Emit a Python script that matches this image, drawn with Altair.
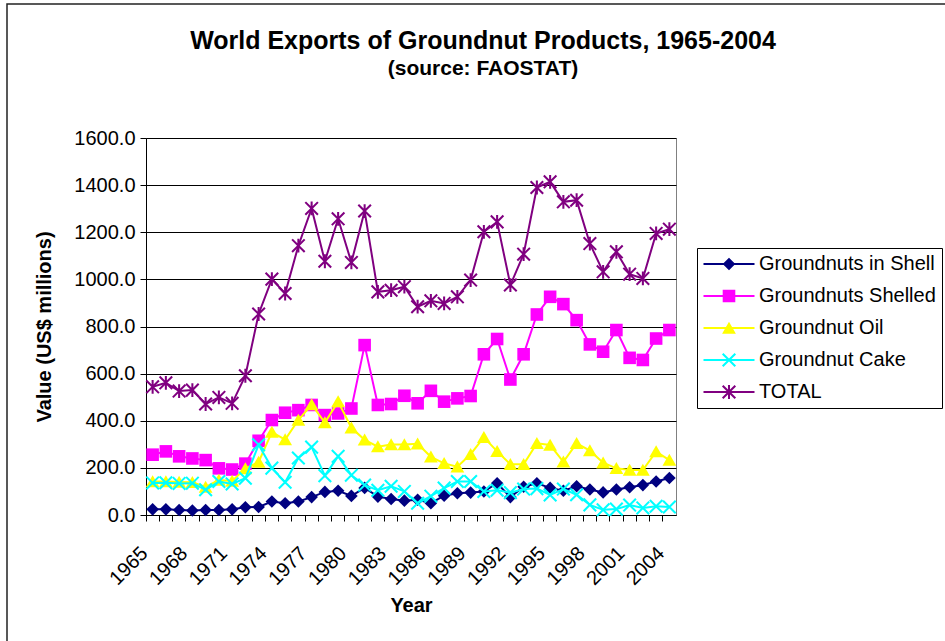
import altair as alt
import pandas as pd

# ---------------- data ----------------
years = list(range(1965, 2005))

shell = [24, 24, 21, 19, 21, 21, 24, 33, 34, 57,
         50, 57, 76, 98, 103, 81, 115, 78, 68, 61,
         65, 50, 82, 92, 95, 100, 135, 76, 120, 135,
         115, 103, 122, 108, 96, 108, 118, 127, 142, 157]

shelled = [256, 270, 249, 240, 233, 198, 193, 218, 315, 403,
           434, 445, 467, 424, 431, 452, 721, 467, 471, 506,
           474, 527, 481, 495, 505, 682, 747, 575, 682, 851,
           926, 895, 827, 724, 693, 785, 667, 658, 749, 785]

oil = [142, 142, 140, 139, 119, 148, 144, 197, 225, 352,
       320, 403, 469, 392, 481, 370, 319, 290, 299, 299,
       302, 247, 219, 205, 258, 330, 270, 215, 215, 304,
       297, 226, 304, 273, 222, 198, 191, 191, 269, 233]

cake = [136, 137, 134, 135, 107, 142, 132, 156, 298, 199,
        139, 242, 288, 167, 249, 169, 127, 105, 122, 100,
        50, 80, 114, 142, 142, 100, 105, 95, 110, 112,
        85, 110, 86, 43, 22, 25, 42, 30, 37, 34]

total = [544, 561, 526, 530, 471, 499, 474, 591, 853, 1001,
         940, 1143, 1301, 1077, 1257, 1072, 1290, 947, 954, 969,
         884, 909, 898, 926, 997, 1202, 1244, 976, 1107, 1390,
         1414, 1329, 1336, 1152, 1032, 1117, 1022, 1004, 1195, 1213]

names = ["Groundnuts in Shell", "Groundnuts Shelled", "Groundnut Oil",
         "Groundnut Cake", "TOTAL"]
colors = ["#000080", "#FF00FF", "#FFFF00", "#00FFFF", "#800080"]
series_values = [shell, shelled, oil, cake, total]
y_ticks = [0, 200, 400, 600, 800, 1000, 1200, 1400, 1600]

FONT = "Liberation Sans"

# ---------------- marker shapes (unit path, 1 unit = 6 px at size 144) ----------------
def poly(pts):
    area = 0.0
    for i in range(len(pts)):
        x1, y1 = pts[i]
        x2, y2 = pts[(i + 1) % len(pts)]
        area += x1 * y2 - x2 * y1
    if area < 0:
        pts = list(reversed(pts))
    return "M" + "L".join(f"{x:.3f},{y:.3f}" for x, y in pts) + "Z"


def seg(x1, y1, x2, y2, t):
    dx, dy = x2 - x1, y2 - y1
    ln = (dx * dx + dy * dy) ** 0.5
    nx, ny = -dy / ln * t, dx / ln * t
    return poly([(x1 + nx, y1 + ny), (x2 + nx, y2 + ny),
                 (x2 - nx, y2 - ny), (x1 - nx, y1 - ny)])


T = 0.17
markers = [
    poly([(0, -1.05), (1.05, 0), (0, 1.05), (-1.05, 0)]),
    poly([(-1.05, -1.05), (1.05, -1.05), (1.05, 1.05), (-1.05, 1.05)]),
    poly([(0, -1.05), (1.15, 0.95), (-1.15, 0.95)]),
    seg(-1.05, -1.05, 1.05, 1.05, T) + seg(-1.05, 1.05, 1.05, -1.05, T),
    seg(-1.05, -1.05, 1.05, 1.05, T) + seg(-1.05, 1.05, 1.05, -1.05, T)
    + seg(0, -1.15, 0, 1.15, T),
]
legend_line = seg(-4.25, 0, 4.25, 0, T)
legend_shapes = [legend_line + m for m in markers]

# ---------------- table ----------------
rows = []
for n, vals in zip(names, series_values):
    for yr, v in zip(years, vals):
        rows.append({"Year": yr, "Value": v, "Series": n})
df = pd.DataFrame(rows)

x_enc = alt.X(
    "Year:O",
    scale=alt.Scale(type="band", paddingInner=0, paddingOuter=0),
    axis=alt.Axis(
        title="Year", titleFont=FONT, titleFontSize=20, titleFontWeight="bold",
        titleColor="black", titleY=90, titleBaseline="middle",
        labelFont=FONT, labelFontSize=20, labelColor="black",
        labelAngle=-45, labelAlign="right", labelBaseline="middle",
        labelExpr="datum.value % 3 == 0 ? datum.label : ''",
        labelOverlap=False, labelPadding=29, labelOffset=-8,
        bandPosition=0, tickSize=6, tickColor="black", tickWidth=1,
        domainColor="black", domainWidth=1, grid=False,
    ),
)
y_enc = alt.Y(
    "Value:Q",
    scale=alt.Scale(domain=[0, 1600], nice=False, zero=True),
    axis=alt.Axis(
        title="Value (US$ millions)", titleFont=FONT, titleFontSize=20,
        titleFontWeight="bold", titleColor="black",
        titleX=-102, titleY=188.5, titleAlign="center", titleBaseline="middle",
        values=y_ticks, format=".1f",
        labelFont=FONT, labelFontSize=20, labelColor="black", labelPadding=5,
        tickSize=6, tickColor="black", domainColor="black",
        grid=True, gridColor="black", gridWidth=1,
    ),
)

layers = []
for i, (n, c) in enumerate(zip(names, colors)):
    base = alt.Chart(df).transform_filter(alt.datum.Series == n)
    layers.append(base.mark_line(color=c, strokeWidth=2).encode(x=x_enc, y=y_enc))
    layers.append(
        base.mark_point(shape=markers[i], filled=True, size=144, color=c, opacity=1)
        .encode(x=x_enc, y=y_enc)
    )

legend_props = dict(
    title=None, orient="none", legendX=551, legendY=110,
    labelFont=FONT, labelFontSize=20, labelColor="black", labelLimit=400,
    symbolSize=144, symbolOffset=16, labelOffset=20, symbolStrokeWidth=0,
    rowPadding=12, padding=6, strokeColor="black", fillColor="white",
    symbolOpacity=1,
)

legend_layer = (
    alt.Chart(df)
    .transform_filter("false")
    .mark_point(filled=True, size=144, opacity=1)
    .encode(
        color=alt.Color(
            "Series:N",
            scale=alt.Scale(domain=names, range=colors),
            legend=alt.Legend(**legend_props),
        ),
        shape=alt.Shape(
            "Series:N",
            scale=alt.Scale(domain=names, range=legend_shapes),
            legend=alt.Legend(**legend_props),
        ),
    )
)

frame = alt.Chart(alt.Data(values=[{"k": 1}])).mark_rect(
    fill="transparent", stroke="#222222", strokeWidth=1.5
).encode(
    x=alt.value(-139), x2=alt.value(810), y=alt.value(-134), y2=alt.value(520)
)

chart = (
    alt.layer(*layers, legend_layer, frame)
    .properties(
        width=530,
        height=377,
        title=alt.TitleParams(
            text="World Exports of Groundnut Products, 1965-2004",
            subtitle="(source: FAOSTAT)",
            font=FONT, fontSize=25, fontWeight="bold", color="black",
            subtitleFont=FONT, subtitleFontSize=21, subtitleFontWeight="bold",
            subtitleColor="black", subtitlePadding=4,
            anchor="middle", frame="group", dx=72, offset=-76,
        ),
        autosize=alt.AutoSizeParams(type="none"),
        padding={"left": 146, "top": 138, "right": 269, "bottom": 126},
        background="white",
    )
    .configure_view(fill="#C0C0C0", stroke="#808080", strokeWidth=1)
)

chart.save("out.html", embed_options={"renderer": "svg", "actions": False})
